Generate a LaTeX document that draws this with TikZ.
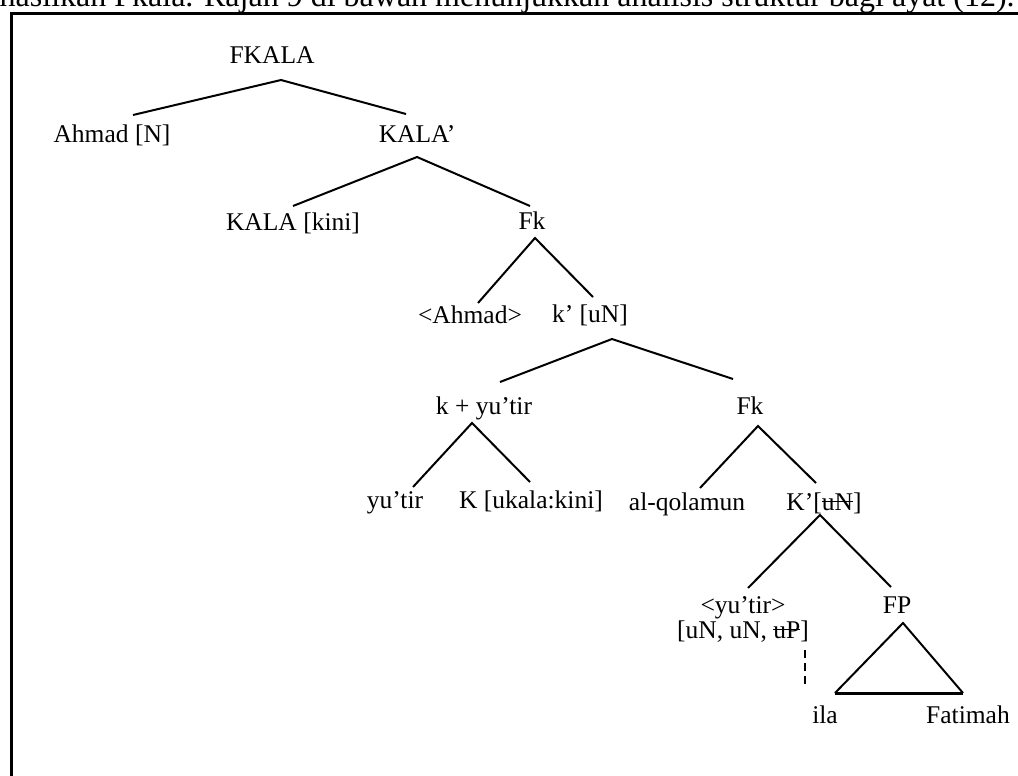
\documentclass[tikz,border=0pt]{standalone}
\usepackage{fontspec}
\setmainfont{Liberation Serif}
\newsavebox\strkbox
\newcommand\strk[1]{\sbox\strkbox{#1}\rlap{\rule[0.3em]{\wd\strkbox}{0.06em}}\usebox\strkbox}
\begin{document}
\begin{tikzpicture}[x=0.5pt,y=-0.5pt,
  every node/.style={inner sep=0pt,anchor=base,font=\fontsize{12.75}{15}\selectfont},
  edge/.style={line width=1pt},
  frame/.style={line width=1.5pt}]
\clip (0,0) rectangle (1018,776);
\useasboundingbox (0,0) rectangle (1018,776);
% top running text (cut off)
\node[anchor=base east,font=\fontsize{16}{19}\selectfont] (toptext) at (1015,6)
  {hasilkan Fkala. Rajah 9 di bawah menunjukkan analisis struktur bagi ayat (12).};
% frame
\coordinate (fr1) at (1018,13);
\coordinate (fr2) at (11,13);
\coordinate (fr3) at (11,776);
\draw[frame] (fr1) -- (fr2) -- (fr3);
% nodes
\node (fkala) at (272,63) {FKALA};
\node (ahmadN) at (112,142) {Ahmad [N]};
\node (kalap) at (417,142) {KALA’};
\node (kalakini) at (293,230) {KALA [kini]};
\node (fk1) at (532,229) {Fk};
\node (ahmad2) at (470,323) {<Ahmad>};
\node (kp) at (590,322) {k’ [uN]};
\node (kyu) at (484,414) {k + yu’tir};
\node (fk2) at (750,414) {Fk};
\node (yutir) at (395,508) {yu’tir};
\node (kuk) at (531,508) {K [ukala:kini]};
\node (alq) at (687,510) {al-qolamun};
\node (kpun) at (824,510) {K’[\strk{uN}]};
\node (yutir2) at (743,613) {<yu’tir>};
\node (feat) at (743,638) {[uN, uN, \strk{uP}]};
\node (fp) at (897,613) {FP};
\node (ila) at (825,723) {ila};
\node (fatimah) at (968,723) {Fatimah};
% connector end points
\coordinate (fkala-a) at (281,80);
\coordinate (ahmadN-t) at (133,115);
\coordinate (kalap-t) at (406,114);
\coordinate (kalap-a) at (417,157);
\coordinate (kalakini-t) at (293,206);
\coordinate (fk1-t) at (530,206);
\coordinate (fk1-a) at (535,238);
\coordinate (ahmad2-t) at (478,303);
\coordinate (kp-t) at (593,297);
\coordinate (kp-a) at (612,339);
\coordinate (kyu-t) at (500,382);
\coordinate (fk2-t) at (733,379);
\coordinate (kyu-a) at (472,423);
\coordinate (yutir-t) at (413,487);
\coordinate (kuk-t) at (530,482);
\coordinate (fk2-a) at (758,426);
\coordinate (alq-t) at (700,488);
\coordinate (kpun-t) at (816,483);
\coordinate (kpun-a) at (820,515);
\coordinate (yutir2-t) at (748,588);
\coordinate (fp-t) at (891,587);
\coordinate (fp-a) at (903,623);
\coordinate (ila-t) at (835,693);
\coordinate (fatimah-t) at (963,693);
\coordinate (feat-b) at (805,650);
\coordinate (trace) at (805,685);
% connectors
\draw[edge] (ahmadN-t) -- (fkala-a) -- (kalap-t);
\draw[edge] (kalakini-t) -- (kalap-a) -- (fk1-t);
\draw[edge] (ahmad2-t) -- (fk1-a) -- (kp-t);
\draw[edge] (kyu-t) -- (kp-a) -- (fk2-t);
\draw[edge] (yutir-t) -- (kyu-a) -- (kuk-t);
\draw[edge] (alq-t) -- (fk2-a) -- (kpun-t);
\draw[edge] (yutir2-t) -- (kpun-a) -- (fp-t);
\draw[edge] (ila-t) -- (fp-a) -- (fatimah-t);
\draw[frame] (ila-t) -- (fatimah-t);
\draw[edge,dash pattern=on 4pt off 2.5pt] (feat-b) -- (trace);
\end{tikzpicture}
\end{document}
